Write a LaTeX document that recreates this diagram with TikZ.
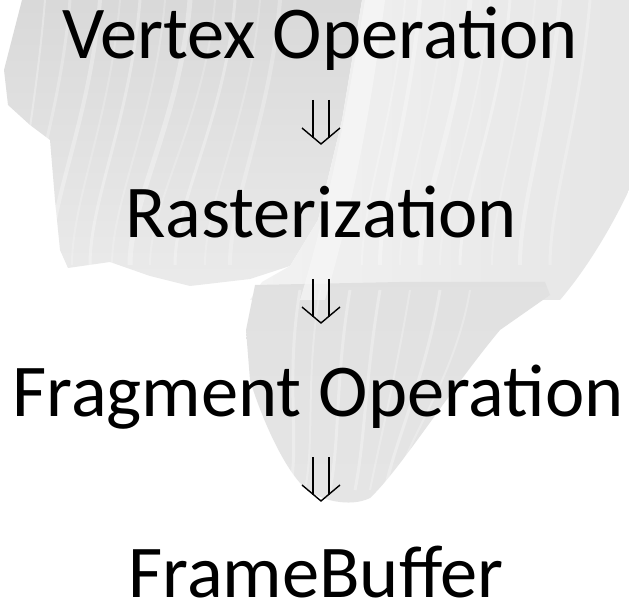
\documentclass[tikz,border=0pt]{standalone}
\usepackage{fontspec}
\setmainfont{Carlito}
\begin{document}
\begin{tikzpicture}[x=1pt,y=-1pt,
  stage/.style={font=\fontsize{74.5}{84}\selectfont, anchor=base, inner sep=0pt, text=black},
  darrow/.style={line width=1.4pt, draw=black, line cap=butt, line join=miter}]
\useasboundingbox (0,0) rectangle (629,601);
\fill[white] (0,0) rectangle (629,601);
% brush strokes (background)
\shade[left color=gray!30, right color=gray!16, shading angle=0]
  (22,0) -- (4,70) -- (8,105) -- (30,125) -- (50,140) -- (55,200) -- (60,250) -- (68,268)
  -- (110,262) -- (150,276) -- (190,286) -- (250,279) -- (290,266) -- (318,220) -- (342,120) -- (362,0) -- cycle;
\shade[left color=gray!10, right color=gray!20]
  (362,0) -- (342,120) -- (318,220) -- (290,266) -- (262,282) -- (250,300) -- (560,300)
  .. controls (590,265) and (615,220) .. (629,190) -- (629,0) -- cycle;
\shade[top color=gray!24, bottom color=gray!20]
  (255,285) -- (246,330) -- (250,380) .. controls (262,420) and (285,470) .. (305,488)
  .. controls (318,500) and (350,508) .. (370,498)
  .. controls (400,470) and (450,390) .. (500,330) -- (550,295) -- (545,282) -- (400,282) -- cycle;
\fill[gray!6, opacity=0.7]
  (365,0) .. controls (345,120) and (330,200) .. (300,300) -- (325,300)
  .. controls (355,200) and (372,100) .. (385,0) -- cycle;
\foreach \a/\b/\w/\o in {45/15/2/0.3,70/25/3/0.25,100/50/4/0.3,120/72/2/0.2,140/90/3/0.3,165/112/2/0.2,190/130/5/0.3,215/150/2/0.2,235/175/3/0.3,260/205/2/0.2,280/230/4/0.25,405/362/2/0.25,420/380/4/0.3,445/400/2/0.2,470/420/5/0.3,490/440/2/0.2,510/460/3/0.3,535/492/2/0.2,560/520/4/0.3,590/550/3/0.25}
  \draw[white, opacity=\o, line width=\w pt] (\a,0) .. controls (\a-10,120) and (\b,200) .. (\b,265);
\foreach \a/\b/\w/\o in {280/300/3/0.3,300/315/2/0.25,330/340/3/0.3,360/365/3/0.3,390/380/2/0.25,420/395/3/0.3,450/405/2/0.25}
  \draw[white, opacity=\o, line width=\w pt] (\a+20,290) .. controls (\a+5,380) and (\b,440) .. (\b-10,490);
% texts
\node[stage] (v) at (320,59) {Vertex Operation};
\node[stage] (r) at (321,238) {Rasterization};
\node[stage] (f) at (318,417) {Fragment Operation};
\node[stage] (b) at (316,597) {FrameBuffer};
% double arrows
\foreach \n/\t in {a1/100,a2/279,a3/457}{
  \coordinate (\n top) at (321,\t);
  \coordinate (\n tip) at (321,\t+44);
  \draw[darrow] ([xshift=-8pt]\n top) -- ([xshift=-8pt,yshift=-38pt]\n top);
  \draw[darrow] ([xshift=8pt]\n top) -- ([xshift=8pt,yshift=-38pt]\n top);
  \draw[darrow] ([xshift=-19pt,yshift=16pt]\n tip) -- (\n tip) -- ([xshift=19pt,yshift=16pt]\n tip);
}
\end{tikzpicture}
\end{document}
